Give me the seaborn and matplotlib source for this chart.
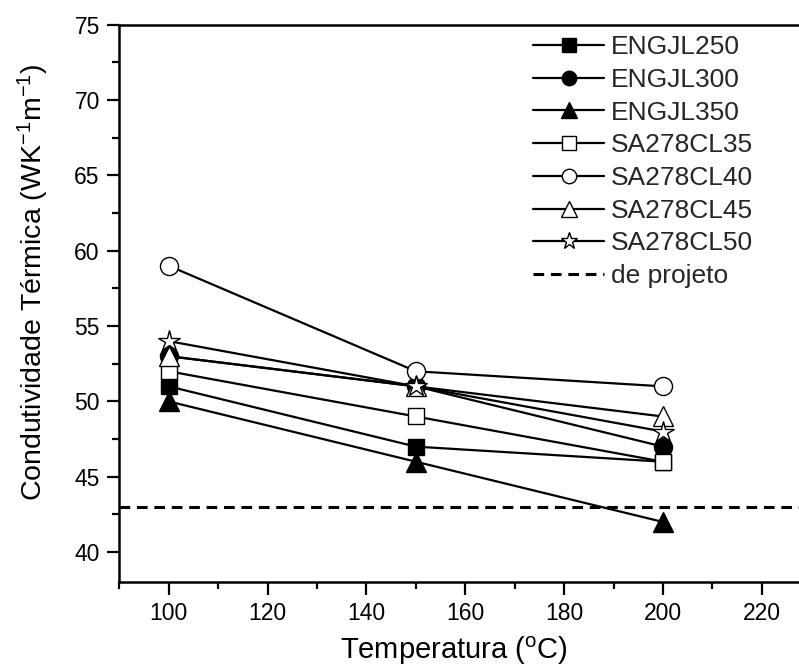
import numpy as np
import pandas as pd
import seaborn as sns
import matplotlib.pyplot as plt
from matplotlib.ticker import MultipleLocator

# ==============================
#  DATA
# ==============================
temperatures = [100, 150, 200]
series_names = ["ENGJL250", "ENGJL300", "ENGJL350",
                "SA278CL35", "SA278CL40", "SA278CL45", "SA278CL50"]
engjl250 = [51, 47, 46]
engjl300 = [53, 51, 47]
engjl350 = [50, 46, 42]
sa278cl35 = [52, 49, 46]
sa278cl40 = [59, 52, 51]
sa278cl45 = [53, 51, 49]
sa278cl50 = [54, 51, 48]
design_value = 43

series_values = [engjl250, engjl300, engjl350,
                 sa278cl35, sa278cl40, sa278cl45, sa278cl50]
markers = ["s", "o", "^", "s", "o", "^", "*"]
filled = [True, True, True, False, False, False, False]

# ==============================
#  STYLE
# ==============================
sns.set_theme(style="ticks")
plt.rcParams['font.family'] = ['Liberation Sans', 'DejaVu Sans']
plt.rcParams['mathtext.fontset'] = 'custom'
plt.rcParams['mathtext.rm'] = 'Liberation Sans'
plt.rcParams['mathtext.it'] = 'Liberation Sans'

fig = plt.figure(figsize=(7.99, 6.66), dpi=100)
ax = fig.add_axes([0.1493, 0.1257, 0.8507, 0.8373])

df = pd.DataFrame({
    "temp": temperatures * len(series_names),
    "k": np.concatenate(series_values),
    "serie": np.repeat(series_names, len(temperatures)),
})

sizes = {"s": 12, "o": 13, "^": 14, "*": 16}
for name, mk, fill in zip(series_names, markers, filled):
    sub = df[df["serie"] == name]
    sns.lineplot(data=sub, x="temp", y="k", ax=ax, color="black",
                 linewidth=1.6, marker=mk, markersize=sizes[mk],
                 markerfacecolor="black" if fill else "white",
                 markeredgecolor="black", markeredgewidth=1.0,
                 label=name)

ax.axhline(design_value, color="black", linewidth=2.2, linestyle=(0, (3.5, 2.2)),
           label="de projeto")

# ==============================
#  AXES
# ==============================
ax.set_xlim(90, 227.5)
ax.set_ylim(38, 75)
ax.xaxis.set_minor_locator(MultipleLocator(10))
ax.yaxis.set_minor_locator(MultipleLocator(2.5))
ax.set_yticks([40, 45, 50, 55, 60, 65, 70, 75])
ax.set_xticks([100, 120, 140, 160, 180, 200, 220])

ax.tick_params(which="major", direction="out", length=9, width=1.6,
               labelsize=16.5, color="black", labelcolor="black", pad=5)
ax.tick_params(which="minor", direction="out", length=5, width=1.6, color="black")
for side in ["left", "bottom", "top"]:
    ax.spines[side].set_linewidth(1.8)
    ax.spines[side].set_color("black")
ax.spines["right"].set_visible(False)

ax.set_xlabel("Temperatura ($^{\\mathrm{o}}$C)", fontsize=21, color="black")
ax.set_ylabel("Condutividade Térmica (WK$^{\\mathrm{-1}}$m$^{\\mathrm{-1}}$)",
              fontsize=20.5, color="black")
ax.xaxis.set_label_coords(0.4917, -0.093)
ax.yaxis.set_label_coords(-0.1005, 0.5386)

leg = ax.legend(loc="upper left", bbox_to_anchor=(0.593, 1.0), frameon=False,
                fontsize=19, handlelength=2.7, handletextpad=0.25,
                labelspacing=0.33, borderaxespad=0, markerscale=0.8)

fig.savefig("out.png", dpi=100)
